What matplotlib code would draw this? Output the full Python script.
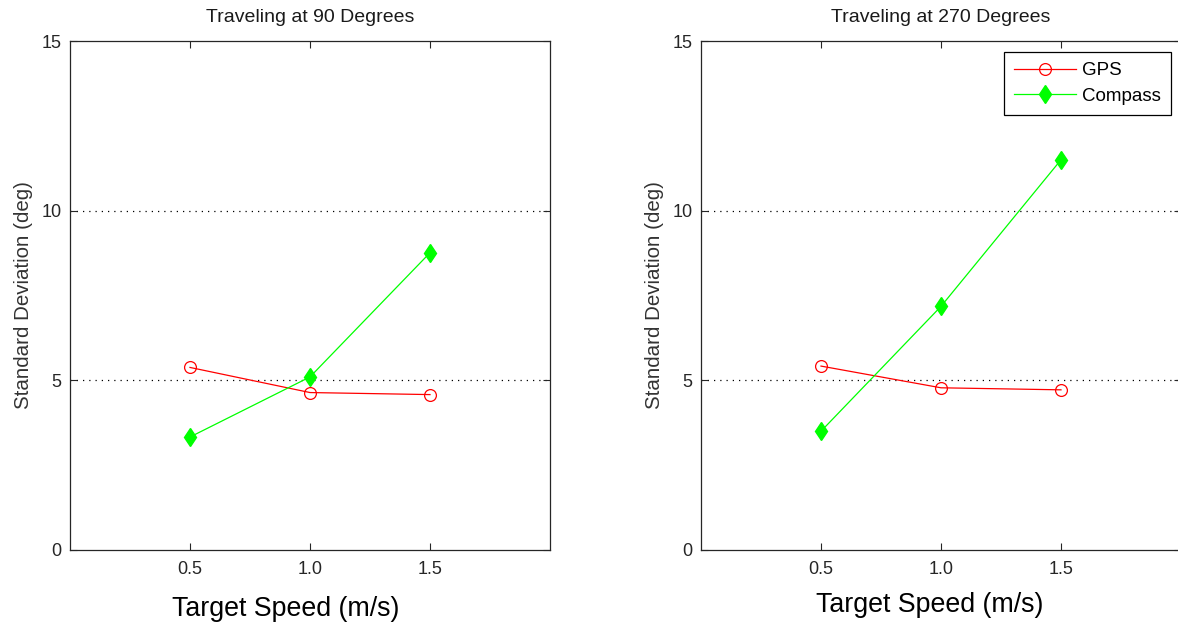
import matplotlib
matplotlib.use('Agg')
import matplotlib.pyplot as plt

plt.rcParams['font.family'] = ['Liberation Sans', 'DejaVu Sans']

# target speeds (m/s)
speeds = [0.5, 1.0, 1.5]

# standard deviation (deg)
gps_90 = [5.38, 4.64, 4.58]
compass_90 = [3.33, 5.10, 8.76]
gps_270 = [5.42, 4.78, 4.72]
compass_270 = [3.50, 7.18, 11.50]

titles = ['Traveling at 90 Degrees', 'Traveling at 270 Degrees']
xticks = [0.5, 1.0, 1.5]
xticklabels = ['0.5', '1.0', '1.5']
yticks = [0, 5, 10, 15]

fig = plt.figure(figsize=(11.78, 6.26), dpi=100)
ax1 = fig.add_axes([70 / 1178, 1 - 550 / 626, 480 / 1178, 509 / 626])
ax2 = fig.add_axes([701 / 1178, 1 - 550 / 626, 480 / 1178, 509 / 626])

# MATLAB put the x labels slightly off-centre
xlabel_pos = [(0.45, 13), (0.477, 10)]

for i, (ax, gps, comp, title) in enumerate([(ax1, gps_90, compass_90, titles[0]),
                                            (ax2, gps_270, compass_270, titles[1])]):
    ax.plot(speeds, gps, color='#ff0000', lw=0.9, marker='o', ms=8.5,
            mfc='none', mec='#ff0000', mew=0.9, label='GPS')
    ax.plot(speeds, comp, color='#00ff00', lw=0.9, marker='d', ms=9.5,
            mfc='#00ff00', mec='#00ff00', label='Compass')
    ax.set_xlim(0, 2)
    ax.set_ylim(0, 15)
    ax.set_xticks(xticks)
    ax.set_xticklabels(xticklabels)
    ax.set_yticks(yticks)
    for yv in [5, 10]:
        ax.axhline(yv, color='black', lw=0.9, ls=(0, (1, 4)), zorder=0)
    ax.tick_params(direction='in', top=True, right=True, length=5,
                   width=0.8, labelsize=13, colors='#262626', pad=6)
    ax.tick_params(axis='x', pad=8)
    for sp in ax.spines.values():
        sp.set_linewidth(0.9)
        sp.set_color('#262626')
    ax.set_title(title, fontsize=14, pad=14, color='#1a1a1a')
    xl_x, xl_pad = xlabel_pos[i]
    ax.set_xlabel('Target Speed (m/s)', fontsize=19.3, labelpad=xl_pad)
    ax.xaxis.label.set_x(xl_x)
    ax.set_ylabel('Standard Deviation (deg)', fontsize=14.8, labelpad=6,
                  color='#333333')

leg = ax2.legend(loc='upper right', bbox_to_anchor=(1171 / 1178, 1 - 52 / 626),
                 bbox_transform=fig.transFigure, fancybox=False, framealpha=1,
                 edgecolor='black', fontsize=13.5, handlelength=3.3,
                 handletextpad=0.3, borderaxespad=0, labelspacing=0.45,
                 borderpad=0.55)
leg.get_frame().set_linewidth(0.9)

fig.savefig('out.png', dpi=100)
